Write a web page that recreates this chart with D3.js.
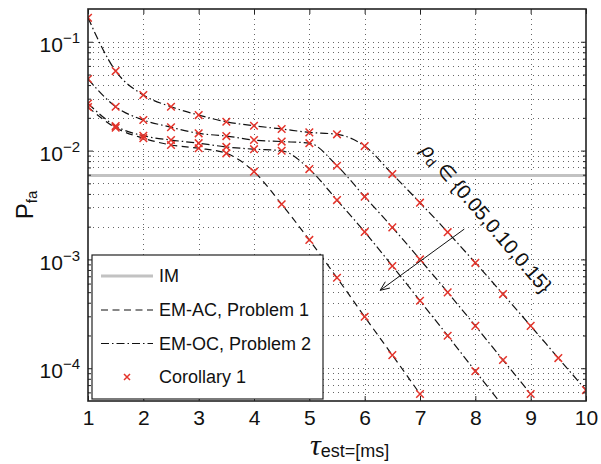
<!DOCTYPE html>
<html>
<head>
<meta charset="utf-8">
<script src="https://cdn.jsdelivr.net/npm/d3@7"></script>
<style>
  html, body { margin: 0; padding: 0; background: #fff; }
  svg { display: block; font-family: "Liberation Sans", Arial, Helvetica, sans-serif; }
</style>
</head>
<body>
<svg id="chart" width="601" height="464"></svg>
<script>
// Estimation window (ms) at which each detector was evaluated
const tau = [1, 1.5, 2, 2.5, 3, 3.5, 4, 4.5, 5, 5.5, 6, 6.5, 7, 7.5, 8, 8.5, 9, 9.5, 10];

// False-alarm probability, EM-OC (Problem 2) for rho_d = 0.05, 0.10, 0.15
const pfaOC005 = [0.166, 0.0538, 0.0324, 0.0253, 0.0212, 0.0184, 0.0169, 0.0158, 0.0147, 0.0141,
                  0.0110, 0.00608, 0.00332, 0.00178, 9.3e-4, 4.8e-4, 2.45e-4, 1.24e-4, 6.3e-5];
const pfaOC010 = [0.0455, 0.0253, 0.0191, 0.0164, 0.0144, 0.0136, 0.0125, 0.0121, 0.0117, 0.00726,
                  0.00377, 0.00197, 1.0e-3, 4.98e-4, 2.45e-4, 1.19e-4, 5.8e-5];
const pfaOC015 = [0.0271, 0.0168, 0.0137, 0.0125, 0.0117, 0.0108, 0.0103, 0.00997, 0.00676, 0.00351,
                  0.00179, 8.7e-4, 4.17e-4, 1.99e-4, 9.4e-5, 4.5e-5];
// False-alarm probability, EM-AC (Problem 1)
const pfaAC = [0.0251, 0.0162, 0.0130, 0.01125, 0.0105, 0.00944, 0.0064, 0.00321, 0.00151,
               6.78e-4, 2.97e-4, 1.32e-4, 5.8e-5];
// Ideal-model false-alarm level
const pfaIM = 0.0059;

// Axis ticks
const xTicks = [1, 2, 3, 4, 5, 6, 7, 8, 9, 10];
const yDecades = [1e-4, 1e-3, 1e-2, 1e-1];
const yExponents = ["−4", "−3", "−2", "−1"];
const legendLabels = ["IM", "EM-AC, Problem 1", "EM-OC, Problem 2", "Corollary 1"];
const rhoLabel = ["ρ", "d", " ∈ {0.05,0.10,0.15}"];

const svg = d3.select("#chart");
const pLeft = 88, pRight = 586, pTop = 9, pBottom = 401;

const x = d3.scaleLinear().domain([1, 10]).range([pLeft, pRight]);
const y = d3.scaleLog().domain([5e-5, 0.2]).range([pBottom, pTop]);

const markRed = "#e4342b";
const dashAC = "7,4.5";
const dashOC = "8,3,1.5,3";

// Minor log positions inside the domain
const yMinor = [];
for (let e = -5; e <= -1; e++) {
  for (let k = 2; k <= 9; k++) {
    const v = k * Math.pow(10, e);
    if (v > 5e-5 && v < 0.2) yMinor.push(v);
  }
}

svg.append("defs").append("clipPath").attr("id", "plotClip")
  .append("rect").attr("x", pLeft).attr("y", pTop)
  .attr("width", pRight - pLeft).attr("height", pBottom - pTop);

// Dotted grid
const grid = svg.append("g").attr("stroke", "#666").attr("stroke-width", 1)
  .attr("stroke-dasharray", "1,4");
grid.selectAll("line.gy").data(yMinor.concat(yDecades)).join("line")
  .attr("x1", pLeft).attr("x2", pRight)
  .attr("y1", d => Math.round(y(d)) + 0.5).attr("y2", d => Math.round(y(d)) + 0.5);
grid.selectAll("line.gx").data(xTicks.slice(1, -1)).join("line")
  .attr("y1", pTop).attr("y2", pBottom)
  .attr("x1", d => Math.round(x(d)) + 0.5).attr("x2", d => Math.round(x(d)) + 0.5);

const plot = svg.append("g").attr("clip-path", "url(#plotClip)");

// IM reference level
plot.append("line")
  .attr("x1", pLeft).attr("x2", pRight)
  .attr("y1", y(pfaIM)).attr("y2", y(pfaIM))
  .attr("stroke", "#c2c2c2").attr("stroke-width", 3);

const line = d3.line().x(d => x(d[0])).y(d => y(d[1])).curve(d3.curveMonotoneX);
const series = [
  { vals: pfaAC, dash: dashAC },
  { vals: pfaOC015, dash: dashOC },
  { vals: pfaOC010, dash: dashOC },
  { vals: pfaOC005, dash: dashOC }
].map(s => ({ dash: s.dash, pts: s.vals.map((v, i) => [tau[i], v]) }));

plot.selectAll("path.curve").data(series).join("path")
  .attr("d", d => line(d.pts))
  .attr("fill", "none").attr("stroke", "#111").attr("stroke-width", 1.2)
  .attr("stroke-dasharray", d => d.dash);

// Corollary 1 markers
function cross(g, cx, cy, r) {
  g.append("path")
    .attr("d", `M${cx - r},${cy - r}L${cx + r},${cy + r}M${cx - r},${cy + r}L${cx + r},${cy - r}`)
    .attr("stroke", markRed).attr("stroke-width", 1.5).attr("fill", "none");
}
const marks = plot.append("g");
series.forEach(s => s.pts.forEach(p => cross(marks, x(p[0]), y(p[1]), 3.8)));

// Axes (ticks pointing inward, box on)
const fs = "21px";
const xAxis = svg.append("g").attr("transform", `translate(0,${pBottom})`)
  .call(d3.axisBottom(x).tickValues(xTicks).tickSize(-5).tickPadding(9).tickFormat(d3.format("d")));
const xAxisTop = svg.append("g").attr("transform", `translate(0,${pTop})`)
  .call(d3.axisTop(x).tickValues(xTicks).tickSize(-5).tickFormat(""));
const yAxis = svg.append("g").attr("transform", `translate(${pLeft},0)`)
  .call(d3.axisLeft(y).tickValues(yDecades).tickSize(-5).tickPadding(8));
const yAxisR = svg.append("g").attr("transform", `translate(${pRight},0)`)
  .call(d3.axisRight(y).tickValues(yDecades).tickSize(-5).tickFormat(""));
const yMinL = svg.append("g").attr("transform", `translate(${pLeft},0)`)
  .call(d3.axisLeft(y).tickValues(yMinor).tickSize(-3).tickFormat(""));
const yMinR = svg.append("g").attr("transform", `translate(${pRight},0)`)
  .call(d3.axisRight(y).tickValues(yMinor).tickSize(-3).tickFormat(""));

[xAxis, xAxisTop, yAxis, yAxisR, yMinL, yMinR].forEach(g => {
  g.select(".domain").remove();
  g.selectAll(".tick line").attr("stroke", "#222").attr("stroke-width", 1);
});
xAxis.selectAll("text").attr("font-size", fs).attr("fill", "#111")
  .attr("font-family", "Liberation Sans, Arial, sans-serif");
yAxis.selectAll("text").each(function (d, i) {
  const t = d3.select(this).text(null).attr("font-size", fs).attr("fill", "#111")
    .attr("dy", "0.46em").attr("font-family", "Liberation Sans, Arial, sans-serif");
  t.append("tspan").text("10");
  t.append("tspan").attr("font-size", "15px").attr("dy", "-9").text(yExponents[i]);
});

// Frame
svg.append("rect").attr("x", pLeft).attr("y", pTop)
  .attr("width", pRight - pLeft).attr("height", pBottom - pTop)
  .attr("fill", "none").attr("stroke", "#222").attr("stroke-width", 1.6);

// Axis titles
const xt = svg.append("text").attr("x", 310).attr("y", 455).attr("fill", "#111");
xt.append("tspan").attr("font-family", "Liberation Serif, DejaVu Serif, serif")
  .attr("font-style", "italic").attr("font-size", "30px").text("τ");
xt.append("tspan").attr("font-size", "18px").attr("dy", "2").text("est=[ms]");

const yt = svg.append("text").attr("transform", "translate(33,205) rotate(-90)")
  .attr("text-anchor", "middle").attr("fill", "#111");
yt.append("tspan").attr("font-size", "24px").text("P");
yt.append("tspan").attr("font-size", "15px").attr("dy", "4").text("fa");

// Parameter annotation with arrow
const ann = svg.append("text").attr("transform", "translate(420,151) rotate(49.5)")
  .attr("font-size", "20px").attr("fill", "#111");
ann.append("tspan").attr("font-style", "italic").text(rhoLabel[0]);
ann.append("tspan").attr("font-size", "14px").attr("dy", "4").text(rhoLabel[1]);
ann.append("tspan").attr("dy", "-4").text(rhoLabel[2]);

const aFrom = [x(7.8), y(1.9e-3)], aTo = [x(6.28), y(5.2e-4)];
svg.append("line").attr("x1", aFrom[0]).attr("y1", aFrom[1]).attr("x2", aTo[0]).attr("y2", aTo[1])
  .attr("stroke", "#111").attr("stroke-width", 1);
{
  const ang = Math.atan2(aFrom[1] - aTo[1], aFrom[0] - aTo[0]);
  const L = 10, spread = 0.4;
  const p1 = [aTo[0] + L * Math.cos(ang + spread), aTo[1] + L * Math.sin(ang + spread)];
  const p2 = [aTo[0] + L * Math.cos(ang - spread), aTo[1] + L * Math.sin(ang - spread)];
  svg.append("path").attr("d", `M${p1[0]},${p1[1]}L${aTo[0]},${aTo[1]}L${p2[0]},${p2[1]}`)
    .attr("fill", "none").attr("stroke", "#111").attr("stroke-width", 1);
}

// Legend
const lg = svg.append("g");
lg.append("rect").attr("x", 92).attr("y", 255).attr("width", 231).attr("height", 144)
  .attr("fill", "#fff").attr("stroke", "#222").attr("stroke-width", 1.2);
const rowY = [276, 310, 343.5, 377];
legendLabels.forEach((lab, i) => {
  const cy = rowY[i];
  if (i === 0) {
    lg.append("line").attr("x1", 101).attr("x2", 153).attr("y1", cy).attr("y2", cy)
      .attr("stroke", "#c2c2c2").attr("stroke-width", 3);
  } else if (i === 1 || i === 2) {
    lg.append("line").attr("x1", 101).attr("x2", 153).attr("y1", cy).attr("y2", cy)
      .attr("stroke", "#111").attr("stroke-width", 1.2)
      .attr("stroke-dasharray", i === 1 ? dashAC : dashOC);
  } else {
    cross(lg, 127, cy, 3);
  }
  lg.append("text").attr("x", 159).attr("y", cy).attr("dy", "0.36em")
    .attr("font-size", "18px").attr("fill", "#111").text(lab);
});
</script>
</body>
</html>
